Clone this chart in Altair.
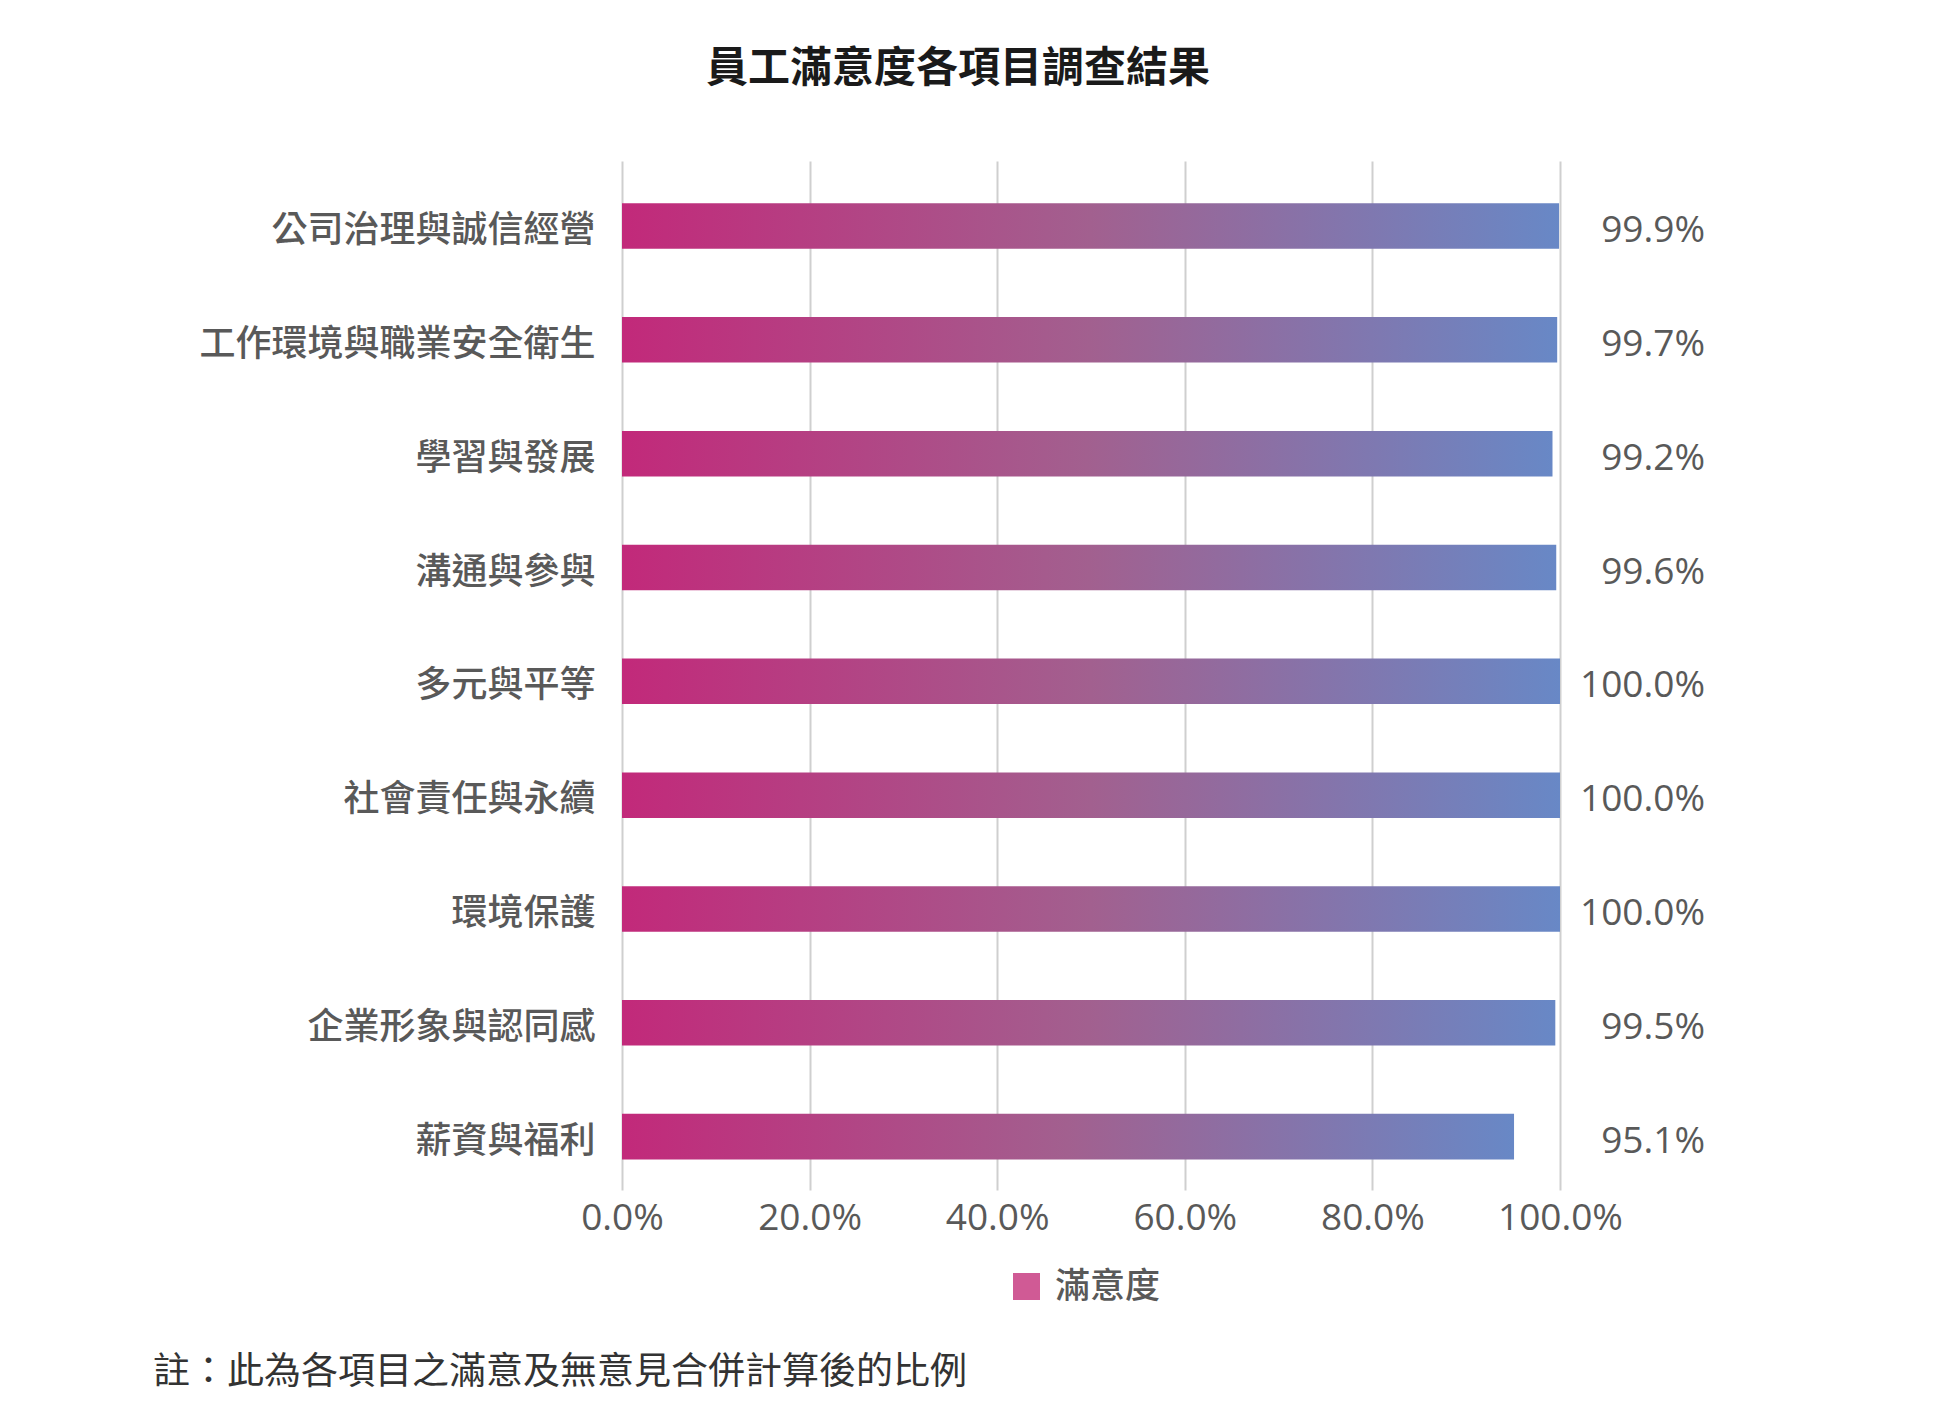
import altair as alt
import pandas as pd

items = ["公司治理與誠信經營", "工作環境與職業安全衛生", "學習與發展", "溝通與參與",
         "多元與平等", "社會責任與永續", "環境保護", "企業形象與認同感", "薪資與福利"]
values = [99.9, 99.7, 99.2, 99.6, 100.0, 100.0, 100.0, 99.5, 95.1]
series = "滿意度"
x_ticks = [0, 20, 40, 60, 80, 100]
title_text = "員工滿意度各項目調查結果"
note_text = "註：此為各項目之滿意及無意見合併計算後的比例"

df = pd.DataFrame({"item": items, "value": values, "series": series})

CJK = "Noto Sans CJK TC"
NUM = "Open Sans, Noto Sans CJK TC"
GRAY = "#595959"

y_enc = alt.Y("item:N", sort=items, title=None,
              scale=alt.Scale(paddingInner=0.6, paddingOuter=0.32, align=0.58),
              axis=alt.Axis(domain=False, ticks=False, grid=False, labelPadding=27,
                            labelFontSize=36, labelFont=CJK, labelColor=GRAY,
                            labelFontWeight=500, labelLimit=0, labelOffset=5))
x_enc = alt.X("value:Q", title=None, scale=alt.Scale(domain=[0, 100], nice=False),
              axis=alt.Axis(values=x_ticks, domain=False, ticks=False, grid=True,
                            gridColor="#cfcfcf", gridWidth=2, labelFlush=False,
                            labelExpr="format(datum.value, '.1f') + '%'",
                            labelFontSize=37, labelFont=NUM, labelColor=GRAY,
                            labelPadding=10))

grad = alt.Gradient(
    gradient="linear",
    stops=[alt.GradientStop(color="#c2297a", offset=0),
           alt.GradientStop(color="#a2608f", offset=0.5),
           alt.GradientStop(color="#6888c6", offset=1)],
    x1=0, x2=1, y1=0, y2=0)

base = alt.Chart(df)

bars = base.mark_bar(fill=grad).encode(x=x_enc, y=y_enc)

legend_layer = base.mark_point(shape="square", filled=True, size=0, opacity=0).encode(
    x="value:Q",
    y=alt.Y("item:N", sort=items),
    color=alt.Color("series:N", scale=alt.Scale(range=["#d05a95"]),
                    legend=alt.Legend(title=None, orient="none", legendX=387, legendY=1108,
                                      symbolType="square", symbolSize=729,
                                      symbolOpacity=1, symbolStrokeWidth=0,
                                      labelFontSize=35, labelFont=CJK,
                                      labelFontWeight=500,
                                      labelColor=GRAY, labelOffset=11))
)

labels = base.transform_calculate(
    lab="format(datum.value, '.1f') + '%'"
).mark_text(align="right", baseline="middle", dx=145, dy=5, fontSize=37, font=NUM,
            color=GRAY).encode(
    x=alt.datum(100), y=alt.Y("item:N", sort=items), text="lab:N")

inner = alt.layer(bars, legend_layer, labels).properties(
    width=938, height=1029,
    title=alt.TitleParams(title_text, anchor="middle", frame="group", dx=-133,
                          fontSize=42, fontWeight="bold", font=CJK, color="#1a1a1a",
                          offset=70))

chart = alt.vconcat(inner).properties(
    title=alt.TitleParams(note_text, orient="bottom", anchor="start", frame="bounds",
                          dx=-46, offset=50, fontSize=37, fontWeight="normal",
                          font=CJK, color="#333333"),
    padding={"left": 144, "top": 40, "right": 20, "bottom": 10},
    background="white"
).configure_view(strokeWidth=0, stroke="transparent").configure_axis(domain=False)

chart.save("out.html", embed_options={"renderer": "svg", "actions": False})
